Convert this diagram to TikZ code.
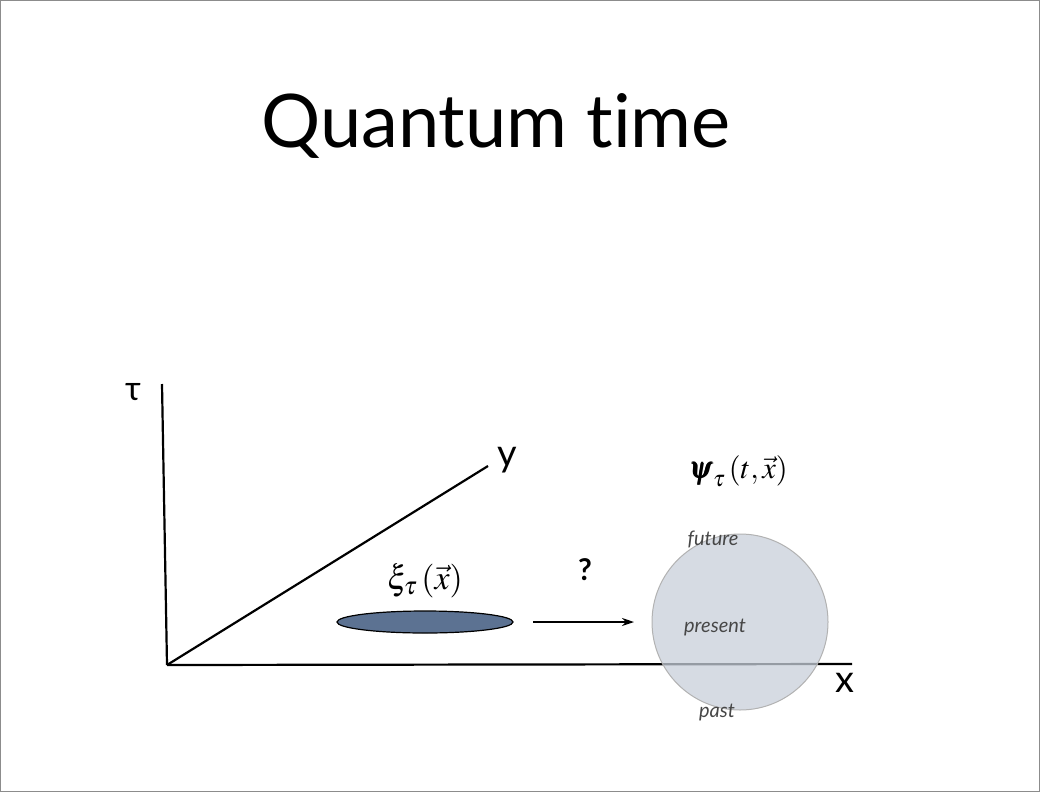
\documentclass[tikz,border=0pt]{standalone}
\usepackage{amsmath}
\usepackage{mathptmx}
\usepackage{bm}
\usepackage{graphicx}
\usepackage{fontspec}
\newfontfamily\gill[Ligatures=CommonOff]{Lato}
\usetikzlibrary{arrows.meta}
\begin{document}
\begin{tikzpicture}[x=1pt,y=-1pt,
  axis/.style={line width=2.2pt,black},
  lbl/.style={inner sep=0pt,font=\gill},
  mlbl/.style={inner sep=0pt,font=\fontsize{24}{24}\selectfont},
  tlbl/.style={inner sep=0pt,font=\gill\itshape\fontsize{20}{20}\selectfont,text=black!72}]
\useasboundingbox (0,0) rectangle (1040,792);
\draw[black!45,line width=0.8pt] (0.5,0.5) rectangle (1039.5,791.5);
\node[lbl,font=\gill\fontsize{74}{74}\selectfont] (title) at (496,126) {Quantum time};
% axes
\coordinate (o) at (167,665);
\coordinate (tautop) at (162,384);
\coordinate (xend) at (852,664);
\coordinate (yend) at (488,466);
\draw[axis] (o) -- (tautop);
\draw[axis] (o) -- (xend);
\draw[axis] (o) -- (yend);
\node[lbl,font=\gill\fontsize{34}{34}\selectfont] (tau) at (133,392) {τ};
\node[lbl,font=\gill\fontsize{38}{38}\selectfont] (ylab) at (507,460) {y};
\node[lbl,font=\gill\fontsize{38}{38}\selectfont] (xlab) at (845,683) {x};
% ellipse
\draw[fill={rgb,255:red,92;green,114;blue,146},line width=1.2pt] (425,622) ellipse (88 and 11);
\node[mlbl] (xi) at (425,581) {\scalebox{1.41}{$\xi_\tau\left(\vec{x}\right)$}};
% arrow
\coordinate (a1) at (533,622);
\coordinate (a2) at (634,622);
\draw[line width=2pt,-{Stealth[length=12pt,width=8pt]}] (a1) -- (a2);
\node[lbl,font=\gill\bfseries\fontsize{30}{30}\selectfont] (q) at (585,570) {?};
% circle
\draw[fill={rgb,255:red,200;green,207;blue,218},fill opacity=0.75,draw=black!30,line width=1pt] (740,622) circle (88);
\node[mlbl] (psi) at (738,471) {\scalebox{1.27}{$\bm{\psi}_\tau\left(t,\vec{x}\right)$}};
\node[tlbl] (future) at (713,539) {future};
\node[tlbl] (present) at (715,627) {present};
\node[tlbl] (past) at (717,712) {past};
\end{tikzpicture}
\end{document}
